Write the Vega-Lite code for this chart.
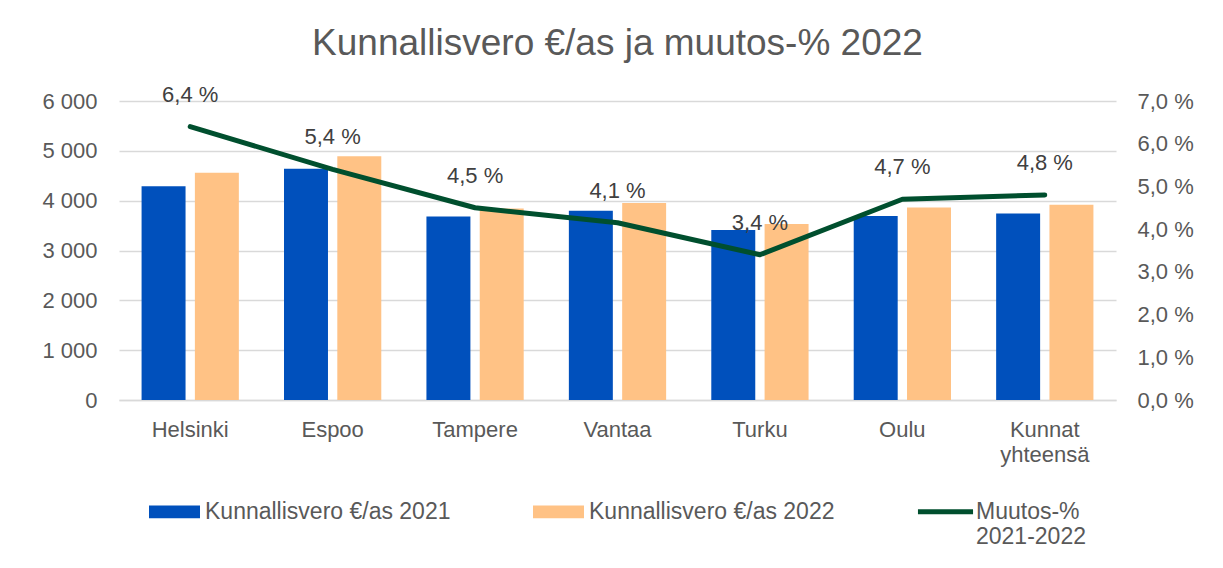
{
  "$schema": "https://vega.github.io/schema/vega-lite/v6.json",
  "width": 997,
  "height": 299,
  "autosize": {"type": "none"},
  "padding": {"left": 119, "top": 101, "right": 107, "bottom": 168},
  "background": "white",
  "title": {
    "text": "Kunnallisvero €/as ja muutos-% 2022",
    "fontSize": 37,
    "font": "Liberation Sans",
    "fontWeight": "normal",
    "color": "#595959",
    "anchor": "middle",
    "offset": 21
  },
  "datasets": {
    "bars": [
      {"city": "Helsinki", "series": "Kunnallisvero €/as 2021", "value": 4290},
      {"city": "Helsinki", "series": "Kunnallisvero €/as 2022", "value": 4560},
      {"city": "Espoo", "series": "Kunnallisvero €/as 2021", "value": 4640},
      {"city": "Espoo", "series": "Kunnallisvero €/as 2022", "value": 4890},
      {"city": "Tampere", "series": "Kunnallisvero €/as 2021", "value": 3680},
      {"city": "Tampere", "series": "Kunnallisvero €/as 2022", "value": 3845},
      {"city": "Vantaa", "series": "Kunnallisvero €/as 2021", "value": 3800},
      {"city": "Vantaa", "series": "Kunnallisvero €/as 2022", "value": 3955},
      {"city": "Turku", "series": "Kunnallisvero €/as 2021", "value": 3410},
      {"city": "Turku", "series": "Kunnallisvero €/as 2022", "value": 3530},
      {"city": "Oulu", "series": "Kunnallisvero €/as 2021", "value": 3690},
      {"city": "Oulu", "series": "Kunnallisvero €/as 2022", "value": 3862},
      {"city": "Kunnat yhteensä", "series": "Kunnallisvero €/as 2021", "value": 3740},
      {"city": "Kunnat yhteensä", "series": "Kunnallisvero €/as 2022", "value": 3918}
    ],
    "change": [
      {"city": "Helsinki", "change": 6.4, "label": "6,4 %"},
      {"city": "Espoo", "change": 5.4, "label": "5,4 %"},
      {"city": "Tampere", "change": 4.5, "label": "4,5 %"},
      {"city": "Vantaa", "change": 4.15, "label": "4,1 %"},
      {"city": "Turku", "change": 3.4, "label": "3,4 %"},
      {"city": "Oulu", "change": 4.7, "label": "4,7 %"},
      {"city": "Kunnat yhteensä", "change": 4.8, "label": "4,8 %"}
    ]
  },
  "layer": [
    {
      "data": {"name": "bars"},
      "mark": {"type": "bar"},
      "encoding": {
        "x": {
          "field": "city",
          "type": "nominal",
          "sort": null,
          "scale": {"paddingInner": 0.317, "paddingOuter": 0.1585},
          "axis": {
            "title": null,
            "labelAngle": 0,
            "labelFontSize": 22,
            "labelFont": "Liberation Sans",
            "labelColor": "#595959",
            "labelPadding": 19,
            "labelLineHeight": 25,
            "ticks": false,
            "domain": true,
            "domainColor": "#D9D9D9",
            "domainWidth": 1.5,
            "grid": false,
            "labelExpr": "datum.label === 'Kunnat yhteensä' ? ['Kunnat', 'yhteensä'] : datum.label"
          }
        },
        "xOffset": {
          "field": "series",
          "type": "nominal",
          "scale": {"paddingInner": 0.175, "paddingOuter": 0}
        },
        "y": {
          "field": "value",
          "type": "quantitative",
          "scale": {"domain": [0, 6000], "nice": false},
          "axis": {
            "title": null,
            "values": [0, 1000, 2000, 3000, 4000, 5000, 6000],
            "labelExpr": "replace(format(datum.value, ','), ',', ' ')",
            "labelFontSize": 22,
            "labelFont": "Liberation Sans",
            "labelColor": "#595959",
            "labelPadding": 22,
            "ticks": false,
            "domain": false,
            "grid": true,
            "gridColor": "#D9D9D9",
            "gridWidth": 1.5
          }
        },
        "color": {
          "field": "series",
          "type": "nominal",
          "scale": {
            "domain": ["Kunnallisvero €/as 2021", "Kunnallisvero €/as 2022", "Muutos-% 2021-2022"],
            "range": ["#0050BC", "#FFC285", "#004F2E"]
          },
          "legend": {
            "title": null,
            "orient": "none",
            "direction": "horizontal",
            "legendX": 30,
            "legendY": 385,
            "labelFontSize": 23,
            "labelFont": "Liberation Sans",
            "labelColor": "#595959",
            "labelLimit": 400,
            "labelOffset": 5,
            "columnPadding": 82,
            "symbolSize": 2601,
            "symbolStrokeWidth": 0,
            "symbolOpacity": 1,
            "labelExpr": "datum.label === 'Muutos-% 2021-2022' ? ['Muutos-%', '2021-2022'] : [datum.label, ' ']",
            "encode": {
              "symbols": {
                "update": {
                  "shape": {"signal": "datum.value === 'Muutos-% 2021-2022' ? 'M-1.08,-0.1H1.08V0.1H-1.08Z' : 'M-1,-0.25H1V0.25H-1Z'"}
                }
              }
            }
          }
        }
      }
    },
    {
      "data": {"name": "change"},
      "encoding": {
        "x": {"field": "city", "type": "nominal", "sort": null},
        "y": {
          "field": "change",
          "type": "quantitative",
          "scale": {"domain": [0, 7], "nice": false},
          "axis": {
            "orient": "right",
            "title": null,
            "values": [0, 1, 2, 3, 4, 5, 6, 7],
            "labelExpr": "replace(format(datum.value, '.1f'), '.', ',') + ' %'",
            "labelFontSize": 22,
            "labelFont": "Liberation Sans",
            "labelColor": "#595959",
            "labelPadding": 21,
            "ticks": false,
            "domain": false,
            "grid": false
          }
        }
      },
      "layer": [
        {
          "mark": {"type": "line", "color": "#004F2E", "strokeWidth": 5, "strokeCap": "round", "strokeJoin": "round"}
        },
        {
          "mark": {"type": "text", "dy": -32, "fontSize": 22, "font": "Liberation Sans", "color": "#404040", "baseline": "middle"},
          "encoding": {"text": {"field": "label"}}
        }
      ]
    }
  ],
  "resolve": {"scale": {"y": "independent"}},
  "config": {"view": {"stroke": null}}
}
